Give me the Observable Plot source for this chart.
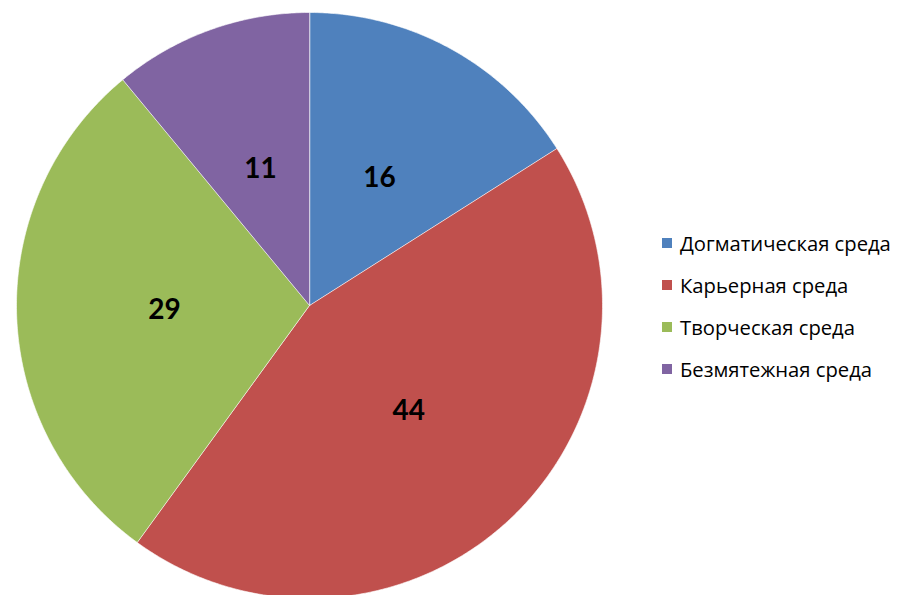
<!DOCTYPE html>
<html>
<head>
<meta charset="utf-8">
<script src="https://cdn.jsdelivr.net/npm/d3@7"></script>
<script src="https://cdn.jsdelivr.net/npm/@observablehq/plot@0.6"></script>
<style>
  html, body { margin: 0; padding: 0; background: #fff; }
  #wrap { position: relative; width: 897px; height: 595px; overflow: hidden; }
  #legend { position: absolute; left: 662px; top: 222px; font-family: "Open Sans", Lato, sans-serif; font-size: 17px; color: #000; }
  .row { display: flex; align-items: center; height: 42px; white-space: nowrap; }
  .sw { width: 10px; height: 10px; margin-right: 8px; flex: none; }
</style>
</head>
<body>
<div id="wrap"></div>
<script>
const categories = ["Догматическая среда", "Карьерная среда", "Творческая среда", "Безмятежная среда"];
const values = [16, 44, 29, 11];
const colors = ["#4F81BD", "#C0504D", "#9BBB59", "#8064A2"];

const W = 897, H = 595, cx = 309, cy = 305, R = 293;

const arcs = d3.pie().sort(null)(values);
const poly = [];
arcs.forEach((a, i) => {
  const cat = categories[i];
  poly.push({cat, x: 0, y: 0});
  const n = Math.max(2, Math.ceil((a.endAngle - a.startAngle) / (Math.PI / 360)));
  for (let k = 0; k <= n; k++) {
    const t = a.startAngle + (a.endAngle - a.startAngle) * k / n;
    poly.push({cat, x: Math.sin(t), y: Math.cos(t)});
  }
});
const labels = arcs.map((a, i) => {
  const t = (a.startAngle + a.endAngle) / 2;
  return {label: String(values[i]), x: 0.495 * Math.sin(t), y: 0.495 * Math.cos(t)};
});

const plot = Plot.plot({
  width: W, height: H,
  margin: 0,
  x: {domain: [-cx / R, (W - cx) / R], axis: null},
  y: {domain: [-(H - cy) / R, cy / R], axis: null},
  color: {domain: categories, range: colors},
  style: {background: "#fff"},
  marks: [
    Plot.line(poly, {x: "x", y: "y", z: "cat", fill: "cat", stroke: "#fff", strokeWidth: 1, strokeOpacity: 0.6, curve: "linear-closed"}),
    Plot.text(labels, {x: "x", y: "y", text: "label", fontSize: 28, fontWeight: "bold", fill: "#000", fontFamily: "Lato, 'Open Sans', sans-serif"})
  ]
});
const wrap = document.getElementById("wrap");
wrap.appendChild(plot);

const color = plot.scale("color");
const legend = document.createElement("div");
legend.id = "legend";
const texts = [];
color.domain.forEach((d, i) => {
  const row = document.createElement("div");
  row.className = "row";
  const sw = document.createElement("span");
  sw.className = "sw";
  sw.style.background = color.range[i];
  const tx = document.createElement("span");
  tx.textContent = d;
  texts.push(tx);
  row.appendChild(sw);
  row.appendChild(tx);
  legend.appendChild(row);
});
wrap.appendChild(legend);
// fit first legend label to the reference width (~211px)
const w0 = texts[0].getBoundingClientRect().width;
if (w0 > 0) legend.style.fontSize = (17 * 211 / w0).toFixed(2) + "px";
</script>
</body>
</html>
